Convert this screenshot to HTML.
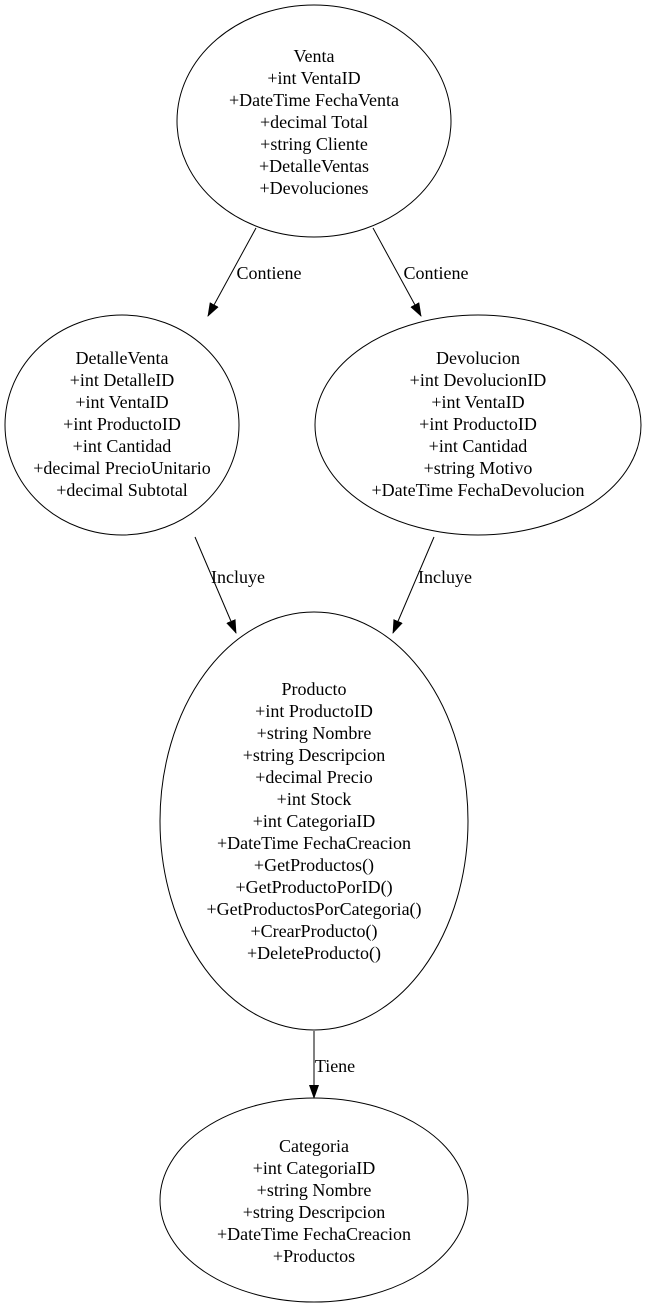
<!DOCTYPE html>
<html><head><meta charset="utf-8"><style>html,body{margin:0;padding:0;background:#fff}svg{display:block}</style></head>
<body>
<svg width="656" height="1308" viewBox="0 0 656 1308" xmlns="http://www.w3.org/2000/svg" font-family="'Liberation Serif', serif" font-size="18" fill="none">
<defs><marker id="a" markerWidth="14" markerHeight="10" refX="13" refY="5" orient="auto" markerUnits="userSpaceOnUse"><path d="M0,0 L14,5 L0,10 Z" fill="#000"/></marker></defs>
<g stroke="#000" stroke-width="1">
<ellipse cx="314" cy="121" rx="137" ry="116"/>
<ellipse cx="122" cy="425" rx="117" ry="110"/>
<ellipse cx="478" cy="425" rx="163" ry="110"/>
<ellipse cx="314" cy="821" rx="154" ry="209"/>
<ellipse cx="314" cy="1200" rx="154" ry="102"/>
<line x1="256" y1="228" x2="208" y2="316" marker-end="url(#a)"/>
<line x1="373" y1="228" x2="421" y2="316" marker-end="url(#a)"/>
<line x1="195" y1="537" x2="236" y2="633" marker-end="url(#a)"/>
<line x1="434" y1="537" x2="393" y2="633" marker-end="url(#a)"/>
<line x1="314" y1="1031" x2="314" y2="1098" marker-end="url(#a)"/>
</g>
<g fill="#000" text-anchor="middle">
<text x="314" y="62">Venta</text><text x="314" y="84">+int VentaID</text><text x="314" y="106">+DateTime FechaVenta</text><text x="314" y="128">+decimal Total</text><text x="314" y="150">+string Cliente</text><text x="314" y="172">+DetalleVentas</text><text x="314" y="194">+Devoluciones</text>
<text x="122" y="364">DetalleVenta</text><text x="122" y="386">+int DetalleID</text><text x="122" y="408">+int VentaID</text><text x="122" y="430">+int ProductoID</text><text x="122" y="452">+int Cantidad</text><text x="122" y="474">+decimal PrecioUnitario</text><text x="122" y="496">+decimal Subtotal</text>
<text x="478" y="364">Devolucion</text><text x="478" y="386">+int DevolucionID</text><text x="478" y="408">+int VentaID</text><text x="478" y="430">+int ProductoID</text><text x="478" y="452">+int Cantidad</text><text x="478" y="474">+string Motivo</text><text x="478" y="496">+DateTime FechaDevolucion</text>
<text x="314" y="695">Producto</text><text x="314" y="717">+int ProductoID</text><text x="314" y="739">+string Nombre</text><text x="314" y="761">+string Descripcion</text><text x="314" y="783">+decimal Precio</text><text x="314" y="805">+int Stock</text><text x="314" y="827">+int CategoriaID</text><text x="314" y="849">+DateTime FechaCreacion</text><text x="314" y="871">+GetProductos()</text><text x="314" y="893">+GetProductoPorID()</text><text x="314" y="915">+GetProductosPorCategoria()</text><text x="314" y="937">+CrearProducto()</text><text x="314" y="959">+DeleteProducto()</text>
<text x="314" y="1152">Categoria</text><text x="314" y="1174">+int CategoriaID</text><text x="314" y="1196">+string Nombre</text><text x="314" y="1218">+string Descripcion</text><text x="314" y="1240">+DateTime FechaCreacion</text><text x="314" y="1262">+Productos</text>
<text x="269" y="279">Contiene</text><text x="436" y="279">Contiene</text>
<text x="238" y="583">Incluye</text><text x="445" y="583">Incluye</text>
<text x="335" y="1072">Tiene</text>
</g>
</svg>
</body></html>
